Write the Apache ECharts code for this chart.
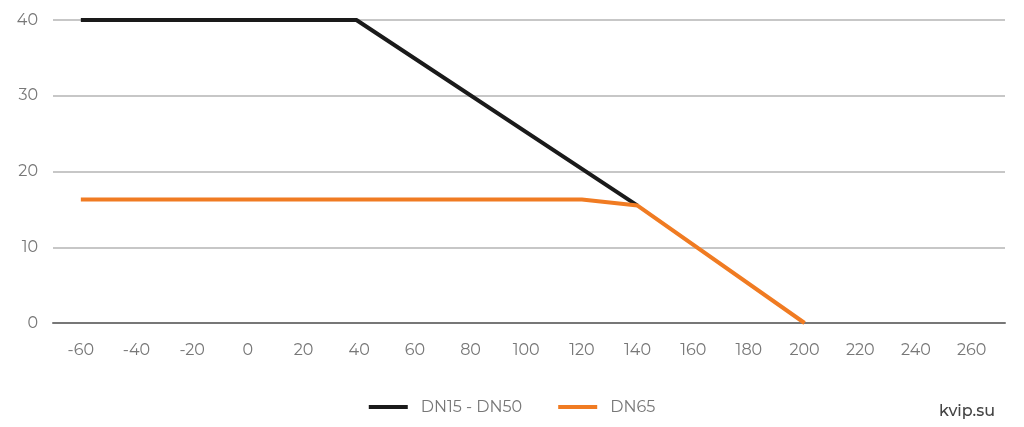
<!DOCTYPE html>
<html>
<head>
<meta charset="utf-8">
<script src="https://cdn.jsdelivr.net/npm/echarts@6/dist/echarts.min.js"></script>
<style>
  html, body {margin: 0; padding: 0; background: #fff;}
  #main {width: 1024px; height: 427px;}
</style>
</head>
<body>
<div id="main"></div>
<script>
// temperature ticks on x
const x_ticks = [-60, -40, -20, 0, 20, 40, 60, 80, 100, 120, 140, 160, 180, 200, 220, 240, 260];
// line vertices [x, y]
const dn15_50 = [[-60, 40], [39, 40], [140, 15.5]];
const dn65 = [[-60, 16.3], [120, 16.3], [140, 15.5], [200, 0]];
const series_names = ['DN15 - DN50', 'DN65'];
const series_colors = ['#1a1a1a', '#f07b22'];

const font = 'Montserrat, "Noto Sans", "DejaVu Sans", sans-serif';
let chart = echarts.init(document.getElementById('main'));

chart.setOption({
    animation: false,
    grid: {left: 53, right: 19, top: 20, bottom: 104},
    legend: {
        bottom: 7, left: 'center',
        itemWidth: 39, itemHeight: 4, itemGap: 36,
        icon: 'rect',
        textStyle: {color: '#777', fontSize: 16, fontFamily: font, padding: [0, 0, 0, 8]},
        data: series_names
    },
    xAxis: {
        type: 'value', min: -70, max: 272,
        axisLine: {show: true, lineStyle: {color: '#777', width: 2}},
        axisTick: {show: false},
        splitLine: {show: false},
        axisLabel: {
            customValues: x_ticks,
            color: '#777', fontSize: 16, fontFamily: font, margin: 19
        }
    },
    yAxis: {
        type: 'value', min: 0, max: 40, interval: 10,
        axisLine: {show: false},
        axisTick: {show: false},
        splitLine: {lineStyle: {color: '#b5b5b5', width: 1.5}},
        axisLabel: {color: '#777', fontSize: 16, fontFamily: font, margin: 15}
    },
    graphic: [{
        type: 'text', right: 29, bottom: 8,
        style: {text: 'kvip.su', fill: '#444', fontSize: 16, fontFamily: font, fontWeight: 500}
    }],
    series: [
        {
            name: series_names[0], type: 'line', data: dn15_50,
            showSymbol: false, color: series_colors[0],
            lineStyle: {width: 4, color: series_colors[0]}, z: 3
        },
        {
            name: series_names[1], type: 'line', data: dn65,
            showSymbol: false, color: series_colors[1],
            lineStyle: {width: 4, color: series_colors[1]}, z: 4
        }
    ]
});
</script>
</body>
</html>
